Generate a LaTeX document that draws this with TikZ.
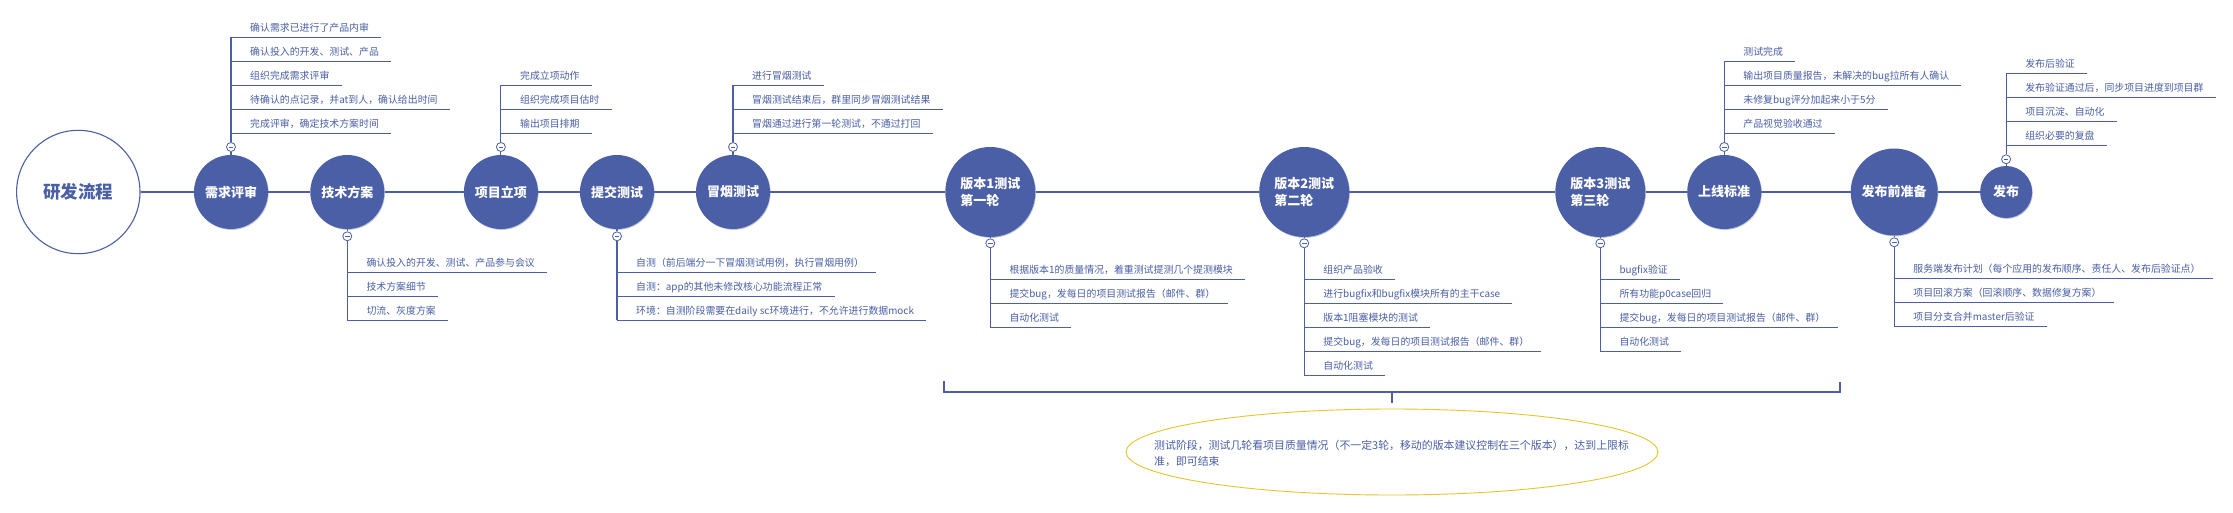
\documentclass[tikz,border=0pt]{standalone}
\usepackage{fontspec}
\setmainfont{Noto Sans CJK SC}
\usetikzlibrary{shapes.geometric,shadows}
\definecolor{mainblue}{HTML}{4A5FA5}
\definecolor{noteline}{HTML}{E6C62A}
% #1 prefix, #2 x of spine, #3 y of first underline, #4 list of texts
\newcommand\twig[4]{%
  \foreach \t [count=\i] in {#4} {%
    \pgfmathsetmacro\uy{#3+(\i-1)*24}%
    \node[item] (#1\i) at (#2+19,\uy-6.2) {\t};%
    \draw[conn] (#1\i.base east) ++(12,6.2) -- (#2,\uy);%
  }%
}
\begin{document}
\begin{tikzpicture}[x=1pt,y=-1pt,
  conn/.style={draw=mainblue, line width=1.1pt},
  hub/.style={circle, fill=mainblue, text=white, inner sep=0pt, minimum size=74pt,
    font=\fontsize{13}{15}\selectfont\bfseries,
    drop shadow={shadow xshift=0.7pt, shadow yshift=-0.9pt, fill=mainblue, opacity=0.35}},
  vhub/.style={hub, minimum size=90pt, align=left, font=\fontsize{13}{17.7}\selectfont\bfseries},
  rootnode/.style={circle, draw=mainblue, line width=1.1pt, fill=white, minimum size=123.4pt,
    inner sep=0pt, text=mainblue, font=\fontsize{17.5}{20}\selectfont\bfseries},
  fold/.style={circle, draw=mainblue, fill=white, line width=0.8pt, minimum size=9pt, inner sep=0pt,
    path picture={\draw[mainblue, line width=0.8pt] ([xshift=2.2pt]path picture bounding box.west) -- ([xshift=-2.2pt]path picture bounding box.east);}},
  item/.style={anchor=base west, inner sep=0pt, text=mainblue, font=\fontsize{9.9}{12}\selectfont},
  bracket/.style={draw=mainblue, line width=2pt},
]
\fill[white] (0,0) rectangle (2233,512);
\useasboundingbox (0,0) rectangle (2233,512);

% main chain
\node[rootnode] (root) at (78.3,192) {研发流程};
\node[hub] (n1) at (231,192) {需求评审};
\node[hub] (n2) at (347.3,192) {技术方案};
\node[hub] (n3) at (500.9,192) {项目立项};
\node[hub] (n4) at (617,192) {提交测试};
\node[hub] (n5) at (733,192) {冒烟测试};
\node[vhub] (n6) at (990.3,192) {版本1测试\\第一轮};
\node[vhub] (n7) at (1304.2,192) {版本2测试\\第二轮};
\node[vhub] (n8) at (1600.3,192) {版本3测试\\第三轮};
\node[hub] (n9) at (1724.2,192) {上线标准};
\node[hub, minimum size=87pt] (n10) at (1894.2,192) {发布前准备};
\node[hub, minimum size=52pt] (n11) at (2006.1,192) {发布};

\foreach \a/\b in {root/n1,n1/n2,n2/n3,n3/n4,n4/n5,n5/n6,n6/n7,n7/n8,n8/n9,n9/n10,n10/n11}
  \draw[conn] (\a) -- (\b);

% fold markers
\node[fold] (f1) at (231,147) {};
\node[fold] (f2) at (347.3,236.3) {};
\node[fold] (f3) at (500.9,147) {};
\node[fold] (f4) at (617,236.3) {};
\node[fold] (f5) at (733,147) {};
\node[fold] (f6) at (990.3,243.3) {};
\node[fold] (f7) at (1304.2,243.3) {};
\node[fold] (f8) at (1600.3,243.3) {};
\node[fold] (f9) at (1724.2,147) {};
\node[fold] (f10) at (1894.2,242.3) {};
\node[fold] (f11) at (2006.1,159.3) {};
\foreach \k in {1,...,11} \draw[conn] (n\k) -- (f\k);

% spines
\draw[conn] (f1) -- (231,37.3);
\draw[conn] (f2) -- (347.3,320.3);
\draw[conn] (f3) -- (500.9,85.3);
\draw[conn] (f4) -- (617,320.3);
\draw[conn] (f5) -- (733,85.3);
\draw[conn] (f6) -- (990.3,327.3);
\draw[conn] (f7) -- (1304.2,375.3);
\draw[conn] (f8) -- (1600.3,351.3);
\draw[conn] (f9) -- (1724.2,61.3);
\draw[conn] (f10) -- (1894.2,326.3);
\draw[conn] (f11) -- (2006.1,73.3);

% items
\twig{a}{231}{37.3}{确认需求已进行了产品内审,确认投入的开发、测试、产品,组织完成需求评审,待确认的点记录，并at到人，确认给出时间,完成评审，确定技术方案时间}
\twig{b}{347.3}{272.3}{确认投入的开发、测试、产品参与会议,技术方案细节,切流、灰度方案}
\twig{c}{500.9}{85.3}{完成立项动作,组织完成项目估时,输出项目排期}
\twig{d}{617}{272.3}{自测（前后端分一下冒烟测试用例，执行冒烟用例）,自测：app的其他未修改核心功能流程正常,环境：自测阶段需要在daily sc环境进行，不允许进行数据mock}
\twig{e}{733}{85.3}{进行冒烟测试,冒烟测试结束后，群里同步冒烟测试结果,冒烟通过进行第一轮测试，不通过打回}
\twig{g}{990.3}{279.3}{根据版本1的质量情况，着重测试提测几个提测模块,提交bug，发每日的项目测试报告（邮件、群）,自动化测试}
\twig{h}{1304.2}{279.3}{组织产品验收,进行bugfix和bugfix模块所有的主干case,版本1阻塞模块的测试,提交bug，发每日的项目测试报告（邮件、群）,自动化测试}
\twig{k}{1600.3}{279.3}{bugfix验证,所有功能p0case回归,提交bug，发每日的项目测试报告（邮件、群）,自动化测试}
\twig{m}{1724.2}{61.3}{测试完成,输出项目质量报告，未解决的bug拉所有人确认,未修复bug评分加起来小于5分,产品视觉验收通过}
\twig{p}{1894.2}{278.3}{服务端发布计划（每个应用的发布顺序、责任人、发布后验证点）,项目回滚方案（回滚顺序、数据修复方案）,项目分支合并master后验证}
\twig{q}{2006.1}{73.3}{发布后验证,发布验证通过后，同步项目进度到项目群,项目沉淀、自动化,组织必要的复盘}

% bracket over the test rounds
\coordinate (bl) at (944,381);
\coordinate (br) at (1840,381.7);
\coordinate (bm) at (1392.3,392);
\coordinate (bt) at (1392.3,402.7);
\draw[bracket] (bl) |- (bm) -| (br);
\draw[bracket] (bm) -- (bt);

% note
\node[ellipse, draw=noteline, line width=0.9pt, minimum width=532pt, minimum height=86pt, inner sep=0pt] (note) at (1392,452) {};
\node[align=left, inner sep=0pt, text=mainblue, font=\fontsize{10.9}{15.7}\selectfont] (notetext) at (1391.6,453.6)
  {测试阶段，测试几轮看项目质量情况（不一定3轮，移动的版本建议控制在三个版本），达到上限标\\准，即可结束};
\end{tikzpicture}
\end{document}
